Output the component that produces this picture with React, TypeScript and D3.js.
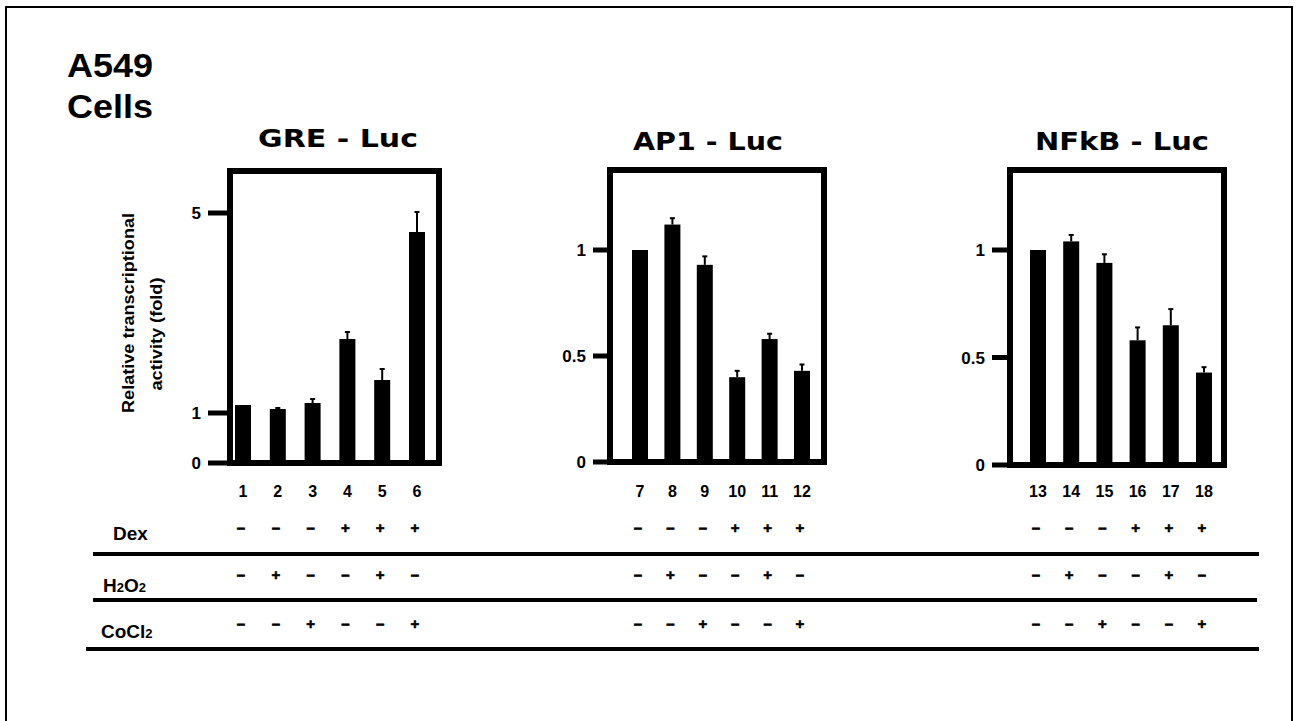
import React, { useEffect, useRef } from 'react'
import * as d3 from 'd3'

// chart values
const panelTitles = ['GRE - Luc', 'AP1 - Luc', 'NFkB - Luc']
const laneNumbers = [
  ['1', '2', '3', '4', '5', '6'],
  ['7', '8', '9', '10', '11', '12'],
  ['13', '14', '15', '16', '17', '18'],
]
const greValues = [1.16, 1.08, 1.2, 2.48, 1.66, 4.62]
const greErrors = [0, 0.02, 0.08, 0.14, 0.22, 0.4]
const ap1Values = [1.0, 1.12, 0.93, 0.4, 0.58, 0.43]
const ap1Errors = [0, 0.03, 0.04, 0.03, 0.025, 0.03]
const nfkbValues = [1.0, 1.04, 0.94, 0.58, 0.65, 0.43]
const nfkbErrors = [0, 0.03, 0.04, 0.06, 0.075, 0.025]
const greTicks = [0, 1, 5]
const ap1Ticks = [0, 0.5, 1]
const nfkbTicks = [0, 0.5, 1]

const treatmentNames = ['Dex', 'H2O2', 'CoCl2']
const dexSigns = ['-', '-', '-', '+', '+', '+']
const h2o2Signs = ['-', '+', '-', '-', '+', '-']
const cocl2Signs = ['-', '-', '+', '-', '-', '+']

const yLabelLines = ['Relative transcriptional', 'activity (fold)']

const FONT = '"Liberation Sans", Arial, sans-serif'

const App = () => {
  const ref = useRef(null)

  useEffect(() => {
    const svg = d3.select(ref.current)
    svg.selectAll('*').remove()

    // outer frame
    svg.append('rect')
      .attr('x', 6).attr('y', 7)
      .attr('width', 1286).attr('height', 760)
      .attr('fill', 'none').attr('stroke', '#000').attr('stroke-width', 2)

    svg.append('text').attr('x', 67).attr('y', 77)
      .attr('font-family', FONT).attr('font-weight', 'bold').attr('font-size', 33)
      .attr('textLength', 86).attr('lengthAdjust', 'spacingAndGlyphs')
      .text('A549')
    svg.append('text').attr('x', 67).attr('y', 118)
      .attr('font-family', FONT).attr('font-weight', 'bold').attr('font-size', 33)
      .attr('textLength', 86).attr('lengthAdjust', 'spacingAndGlyphs')
      .text('Cells')

    // y label, two rotated lines
    const ylab = [
      { x: 134, cy: 313, len: 200 },
      { x: 162, cy: 334, len: 113 },
    ]
    ylab.forEach((l, i) => {
      svg.append('text')
        .attr('transform', `translate(${l.x},${l.cy}) rotate(-90)`)
        .attr('text-anchor', 'middle')
        .attr('font-family', FONT).attr('font-weight', 'bold').attr('font-size', 17)
        .attr('textLength', l.len).attr('lengthAdjust', 'spacingAndGlyphs')
        .text(yLabelLines[i])
    })

    const panels = [
      { values: greValues, errors: greErrors, ticks: greTicks, domain: [0, 5], range: [463, 213],
        left: 227, right: 442, top: 168, first: 243, last: 417, tickLen: 19,
        titleX: 338, titleW: 160, titleY: 147 },
      { values: ap1Values, errors: ap1Errors, ticks: ap1Ticks, domain: [0, 1], range: [462, 250],
        left: 607, right: 827, top: 167, first: 640, last: 802, tickLen: 14,
        titleX: 708, titleW: 150, titleY: 150 },
      { values: nfkbValues, errors: nfkbErrors, ticks: nfkbTicks, domain: [0, 1], range: [465, 250],
        left: 1007, right: 1227, top: 167, first: 1038, last: 1204, tickLen: 15,
        titleX: 1122, titleW: 174, titleY: 150 },
    ]

    const signRows = [dexSigns, h2o2Signs, cocl2Signs]
    const signY = [528, 575, 624]

    panels.forEach((p, pi) => {
      const x = d3.scalePoint().domain(laneNumbers[pi]).range([p.first, p.last])
      const y = d3.scaleLinear().domain(p.domain).range(p.range)
      const g = svg.append('g')

      g.append('text')
        .attr('x', p.titleX).attr('y', p.titleY)
        .attr('text-anchor', 'middle')
        .attr('font-family', '"DejaVu Sans", Arial, sans-serif')
        .attr('font-weight', 'bold').attr('font-size', 25)
        .attr('textLength', p.titleW).attr('lengthAdjust', 'spacingAndGlyphs')
        .text(panelTitles[pi])

      const zero = y(0)
      g.append('rect')
        .attr('x', p.left + 3).attr('y', p.top + 3)
        .attr('width', p.right - p.left - 6).attr('height', zero - p.top - 3)
        .attr('fill', 'none').attr('stroke', '#000').attr('stroke-width', 6)

      // ticks
      g.selectAll('.tick')
        .data(p.ticks)
        .enter()
        .append('line')
        .attr('x1', p.left - p.tickLen).attr('x2', p.left)
        .attr('y1', (d) => y(d)).attr('y2', (d) => y(d))
        .attr('stroke', '#000').attr('stroke-width', 5)
      g.selectAll('.ticklabel')
        .data(p.ticks)
        .enter()
        .append('text')
        .attr('x', p.left - p.tickLen - 7)
        .attr('y', (d) => y(d) + 6)
        .attr('text-anchor', 'end')
        .attr('font-family', FONT).attr('font-weight', 'bold').attr('font-size', 17)
        .text((d) => String(d))

      const bw = 16
      g.selectAll('.bar')
        .data(p.values)
        .enter()
        .append('rect')
        .attr('x', (d, i) => x(laneNumbers[pi][i]) - bw / 2)
        .attr('y', (d) => y(d))
        .attr('width', bw)
        .attr('height', (d) => zero - y(d))
        .attr('fill', '#000')

      // error bars (upper only)
      p.values.forEach((v, i) => {
        const e = p.errors[i]
        if (!e) return
        const cx = x(laneNumbers[pi][i])
        g.append('line')
          .attr('x1', cx).attr('x2', cx)
          .attr('y1', y(v)).attr('y2', y(v + e))
          .attr('stroke', '#000').attr('stroke-width', 2)
        g.append('line')
          .attr('x1', cx - 2.5).attr('x2', cx + 2.5)
          .attr('y1', y(v + e)).attr('y2', y(v + e))
          .attr('stroke', '#000').attr('stroke-width', 2)
      })

      // lane numbers
      g.selectAll('.lane')
        .data(laneNumbers[pi])
        .enter()
        .append('text')
        .attr('x', (d) => x(d))
        .attr('y', 497)
        .attr('text-anchor', 'middle')
        .attr('font-family', FONT).attr('font-weight', 'bold').attr('font-size', 16)
        .text((d) => d)

      // treatment signs
      signRows.forEach((row, ri) => {
        g.selectAll(`.sign${ri}`)
          .data(row)
          .enter()
          .append('text')
          .attr('x', (d, i) => x(laneNumbers[pi][i]) - 2)
          .attr('y', signY[ri] + 5)
          .attr('text-anchor', 'middle')
          .attr('font-family', FONT).attr('font-weight', 'bold').attr('font-size', 15)
          .attr('stroke', '#000').attr('stroke-width', 0.6)
          .text((d) => (d === '+' ? '+' : '\u2013'))
      })
    })

    // treatment labels
    const labelPos = [
      { x: 113, y: 540 },
      { x: 103, y: 592 },
      { x: 101, y: 638 },
    ]
    treatmentNames.forEach((name, i) => {
      const t = svg.append('text')
        .attr('x', labelPos[i].x).attr('y', labelPos[i].y)
        .attr('font-family', FONT).attr('font-weight', 'bold').attr('font-size', 19)
      // digits become subscripts
      name.split(/(\d)/).filter((s) => s).forEach((part) => {
        if (/\d/.test(part)) {
          t.append('tspan').attr('font-size', 13).text(part)
        } else {
          t.append('tspan').text(part)
        }
      })
    })

    // divider lines
    const dividers = [
      { y: 554, x1: 93, x2: 1259 },
      { y: 600, x1: 93, x2: 1257 },
      { y: 649, x1: 86, x2: 1259 },
    ]
    svg.selectAll('.divider')
      .data(dividers)
      .enter()
      .append('line')
      .attr('x1', (d) => d.x1).attr('x2', (d) => d.x2)
      .attr('y1', (d) => d.y).attr('y2', (d) => d.y)
      .attr('stroke', '#000').attr('stroke-width', 4)
  }, [])

  return (
    <svg
      ref={ref}
      width={1300}
      height={721}
      style={{ position: 'absolute', left: 0, top: 0, background: '#fff' }}
    />
  )
}

export default App
